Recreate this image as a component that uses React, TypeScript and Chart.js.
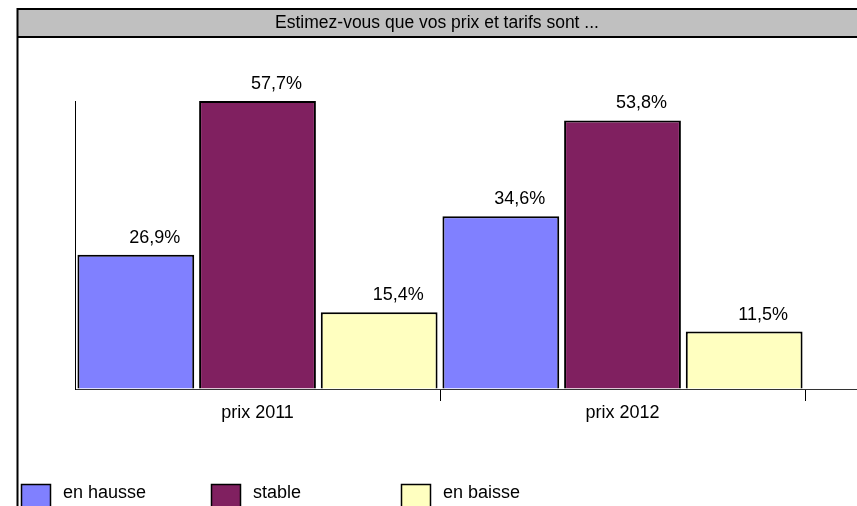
import React, { useEffect, useRef } from "react";
import { Chart, registerables } from "chart.js";

Chart.register(...registerables);

const titleText = "Estimez-vous que vos prix et tarifs sont ...";
const categories = ["prix 2011", "prix 2012", ""];
const seriesNames = ["en hausse", "stable", "en baisse"];
const enHausse = [26.9, 34.6, null];
const stable = [57.7, 53.8, null];
const enBaisse = [15.4, 11.5, null];
const seriesColors = ["#8080FF", "#802060", "#FFFFC0"];
const yMax = 57.7;

const FONT = "'Liberation Sans', Arial, sans-serif";
const FS = 18;
const CANVAS_W = 1170;
const CANVAS_H = 506;

const framePlugin = {
  id: "frame",
  beforeDraw(chart: any) {
    const ctx = chart.ctx;
    ctx.save();
    ctx.fillStyle = "#ffffff";
    ctx.fillRect(0, 0, chart.width, chart.height);
    ctx.fillStyle = "#c0c0c0";
    ctx.fillRect(17, 9, chart.width, 28);
    ctx.strokeStyle = "#000000";
    ctx.lineWidth = 2;
    ctx.beginPath();
    ctx.moveTo(17.5, chart.height + 2);
    ctx.lineTo(17.5, 9);
    ctx.lineTo(chart.width, 9);
    ctx.stroke();
    ctx.beginPath();
    ctx.moveTo(17, 37);
    ctx.lineTo(chart.width, 37);
    ctx.stroke();
    ctx.fillStyle = "#000000";
    ctx.font = `17.5px ${FONT}`;
    ctx.textAlign = "center";
    ctx.textBaseline = "middle";
    ctx.fillText(titleText, 437, 23);
    ctx.restore();
  },
};

const labelPlugin = {
  id: "valueLabels",
  afterDatasetsDraw(chart: any) {
    const ctx = chart.ctx;
    ctx.save();
    ctx.fillStyle = "#000000";
    ctx.font = `${FS}px ${FONT}`;
    ctx.textAlign = "center";
    ctx.textBaseline = "middle";
    chart.data.datasets.forEach((ds: any, di: number) => {
      const meta = chart.getDatasetMeta(di);
      meta.data.forEach((el: any, i: number) => {
        const v = ds.data[i];
        if (v === null || v === undefined) return;
        const txt = v.toFixed(1).replace(".", ",") + "%";
        ctx.fillText(txt, el.x + 19, el.y - 17);
      });
    });
    ctx.restore();
  },
};

const legendPlugin = {
  id: "customLegend",
  afterDraw(chart: any) {
    const ctx = chart.ctx;
    ctx.save();
    ctx.font = `${FS}px ${FONT}`;
    ctx.textAlign = "left";
    ctx.textBaseline = "middle";
    chart.data.datasets.forEach((ds: any, i: number) => {
      const x = 21 + i * 190;
      const y = 484;
      ctx.fillStyle = ds.backgroundColor;
      ctx.fillRect(x, y, 30, 30);
      ctx.strokeStyle = "#000000";
      ctx.lineWidth = 1.5;
      ctx.strokeRect(x + 0.5, y + 0.5, 29, 30);
      ctx.fillStyle = "#000000";
      ctx.fillText(ds.label, x + 42, 493);
    });
    ctx.restore();
  },
};

export default function App() {
  const ref = useRef<HTMLCanvasElement | null>(null);

  useEffect(() => {
    document.body.style.margin = "0";
    if (!ref.current) return;
    const seriesData = [enHausse, stable, enBaisse];
    const chart = new Chart(ref.current, {
      type: "bar",
      data: {
        labels: categories,
        datasets: seriesNames.map((name, i) => ({
          label: name,
          data: seriesData[i],
          backgroundColor: seriesColors[i],
          borderColor: "#000000",
          borderWidth: 2,
          categoryPercentage: 1,
          barPercentage: 0.96,
        })),
      },
      options: {
        responsive: false,
        animation: false,
        devicePixelRatio: 1,
        layout: { padding: { top: 101, right: 0, bottom: 0, left: 0 } },
        plugins: {
          legend: { display: false },
          title: { display: false },
          tooltip: { enabled: false },
        },
        scales: {
          x: {
            offset: true,
            grid: {
              display: true,
              offset: true,
              drawOnChartArea: false,
              drawTicks: true,
              tickLength: 12,
              color: (c: any) => (c.index === 0 ? "rgba(0,0,0,0)" : "#000000"),
              lineWidth: 1,
            },
            border: { display: true, color: "#333333", width: 1 },
            ticks: {
              color: "#000000",
              font: { family: FONT, size: FS },
              padding: 1,
              maxRotation: 0,
            },
            afterFit: (axis: any) => {
              axis.height = 117;
            },
          },
          y: {
            min: 0,
            max: yMax,
            grid: { display: true, drawOnChartArea: false, drawTicks: false },
            border: { display: true, color: "#000000", width: 1 },
            ticks: { display: false },
            afterFit: (axis: any) => {
              axis.width = 75;
            },
          },
        },
      },
      plugins: [framePlugin, labelPlugin, legendPlugin],
    });
    return () => chart.destroy();
  }, []);

  return (
    <div
      style={{
        position: "fixed",
        left: 0,
        top: 0,
        width: 857,
        height: 506,
        overflow: "hidden",
        background: "#ffffff",
      }}
    >
      <canvas
        ref={ref}
        width={CANVAS_W}
        height={CANVAS_H}
        style={{ display: "block", width: CANVAS_W, height: CANVAS_H }}
      />
    </div>
  );
}
